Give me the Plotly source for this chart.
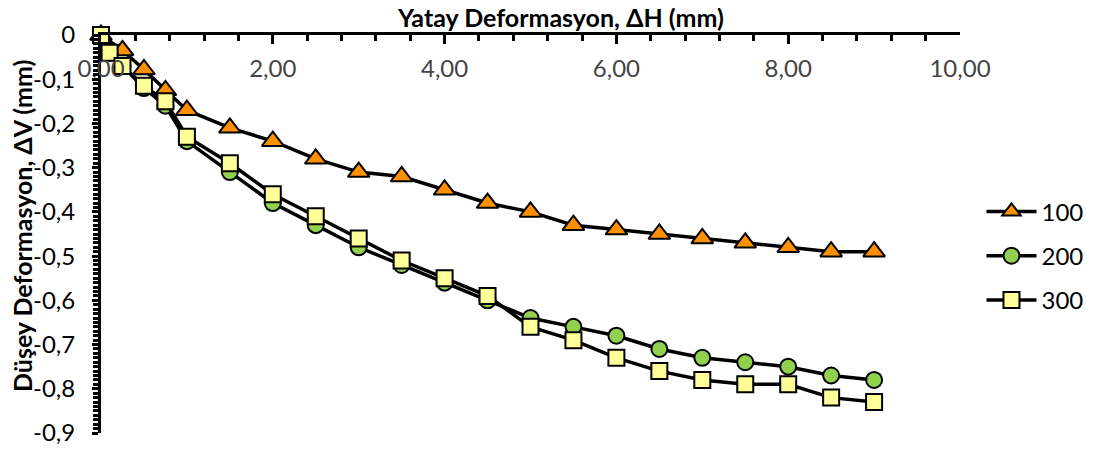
import plotly.graph_objects as go

x_100 = [0, 0.25, 0.5, 0.75, 1, 1.5, 2, 2.5, 3, 3.5, 4, 4.5, 5, 5.5, 6, 6.5, 7, 7.5, 8, 8.5, 9]
y_100 = [0, -0.035, -0.078, -0.125, -0.17, -0.21, -0.24, -0.28, -0.31, -0.32, -0.35, -0.38,
         -0.40, -0.43, -0.44, -0.45, -0.46, -0.47, -0.48, -0.49, -0.49]

x_200 = [0, 0.1, 0.25, 0.5, 0.75, 1, 1.5, 2, 2.5, 3, 3.5, 4, 4.5, 5, 5.5, 6, 6.5, 7, 7.5, 8, 8.5, 9]
y_200 = [0, -0.04, -0.07, -0.12, -0.16, -0.24, -0.31, -0.38, -0.43, -0.48, -0.52, -0.56, -0.60,
         -0.64, -0.66, -0.68, -0.71, -0.73, -0.74, -0.75, -0.77, -0.78]

x_300 = [0, 0.1, 0.25, 0.5, 0.75, 1, 1.5, 2, 2.5, 3, 3.5, 4, 4.5, 5, 5.5, 6, 6.5, 7, 7.5, 8, 8.5, 9]
y_300 = [0, -0.04, -0.07, -0.115, -0.15, -0.23, -0.29, -0.36, -0.41, -0.46, -0.51, -0.55, -0.59,
         -0.66, -0.69, -0.73, -0.76, -0.78, -0.79, -0.79, -0.82, -0.83]

x_tickvals = [0, 2, 4, 6, 8, 10]
x_ticktext = ["0,00", "2,00", "4,00", "6,00", "8,00", "10,00"]
y_tickvals = [0, -0.1, -0.2, -0.3, -0.4, -0.5, -0.6, -0.7, -0.8, -0.9]
y_ticktext = ["0", "-0,1", "-0,2", "-0,3", "-0,4", "-0,5", "-0,6", "-0,7", "-0,8", "-0,9"]

x_title = "<b>Yatay Deformasyon, ΔH (mm)</b>"
y_title = "<b>Düşey Deformasyon, ΔV (mm)</b>"

FONT = "Lato"

fig = go.Figure()
series = [
    ("100", x_100, y_100, "triangle-up", "#FF9000", 19),
    ("200", x_200, y_200, "circle", "#92D050", 16),
    ("300", x_300, y_300, "square", "#FFFF99", 16),
]
for name, xs, ys, sym, col, sz in series:
    fig.add_trace(go.Scatter(
        x=xs, y=ys, name=name, mode="lines+markers", legendgroup=name,
        line=dict(color="black", width=3.5),
        marker=dict(symbol=sym, color=col, size=sz, line=dict(color="black", width=2)),
        cliponaxis=False,
    ))

# page body adds an 8px offset, so the figure is sized to the remaining window
fig.update_layout(
    width=1085, height=445,
    paper_bgcolor="white", plot_bgcolor="white",
    margin=dict(l=93, r=133, t=27, b=20, autoexpand=False),
    font=dict(family=FONT, size=24, color="black"),
    legend=dict(x=1.025, y=0.445, xanchor="left", yanchor="middle",
                font=dict(size=24), tracegroupgap=10, itemwidth=50),
    showlegend=True,
)
fig.add_annotation(
    text=x_title, xref="paper", yref="paper", x=0.535, y=1.0, yshift=1,
    xanchor="center", yanchor="bottom", showarrow=False, font=dict(size=25),
)
fig.add_annotation(
    text=y_title, xref="paper", yref="paper", x=0, y=0.52, xshift=-79,
    xanchor="center", yanchor="middle", textangle=-90, showarrow=False, font=dict(size=25),
)
fig.update_xaxes(
    range=[0, 10], side="top", showgrid=False, zeroline=False, automargin=False,
    showline=True, linecolor="black", linewidth=3,
    tickvals=x_tickvals, ticktext=x_ticktext,
    ticks="inside", ticklen=9, tickwidth=3, tickcolor="black",
    ticklabelposition="inside", ticklabelstandoff=18, ticklabeloverflow="allow",
    minor=dict(dtick=0.4, ticks="inside", ticklen=6, tickwidth=3, tickcolor="black", showgrid=False),
)
fig.update_yaxes(
    range=[-0.9, 0], showgrid=False, zeroline=False, automargin=False,
    showline=True, linecolor="black", linewidth=3,
    tickvals=y_tickvals, ticktext=y_ticktext, ticklabeloverflow="allow",
    ticks="outside", ticklen=6, tickwidth=3, tickcolor="black", ticklabelstandoff=12,
    minor=dict(dtick=0.01, ticks="outside", ticklen=5, tickwidth=2.5, tickcolor="black", showgrid=False),
)

fig.write_html("out.html")
